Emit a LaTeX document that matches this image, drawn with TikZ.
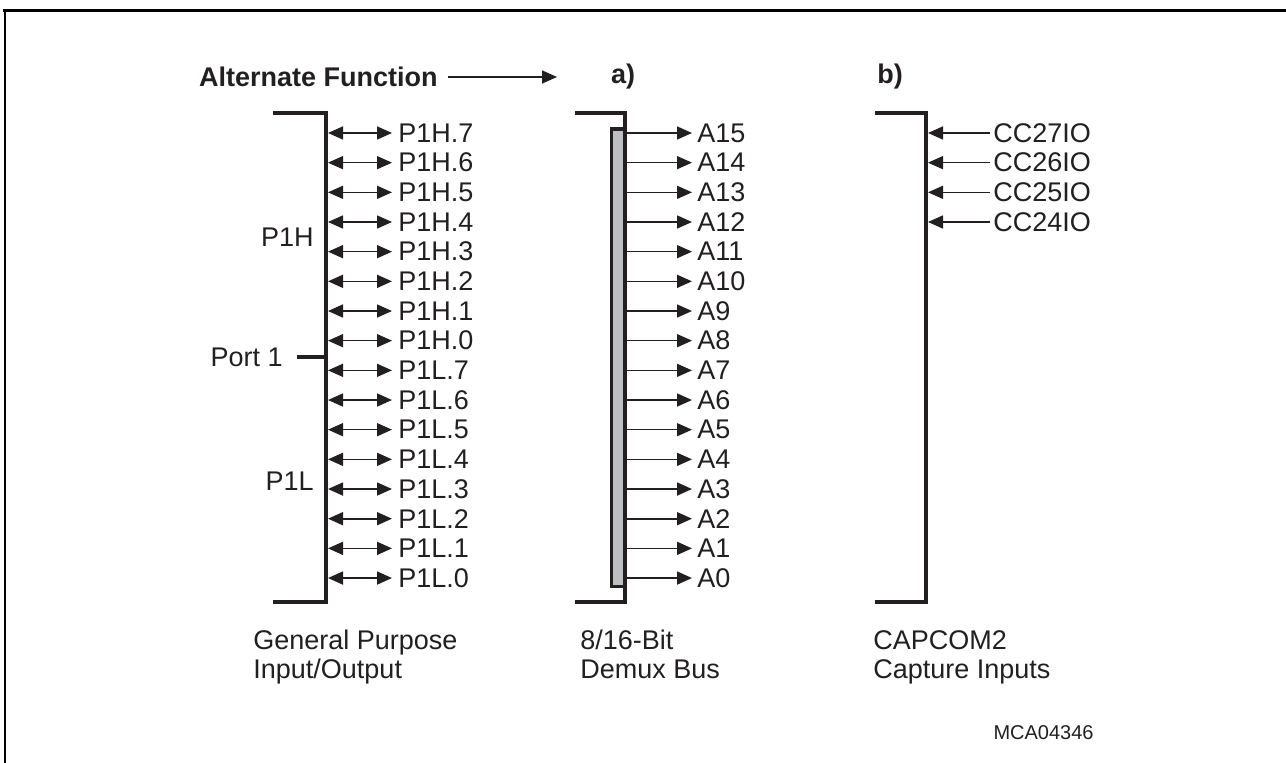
\documentclass[tikz,border=0pt]{standalone}
\usepackage{fontspec}
\setmainfont{Liberation Sans}
\usetikzlibrary{arrows.meta,positioning}
\definecolor{ink}{RGB}{35,31,32}
\definecolor{busgrey}{RGB}{190,191,195}

\begin{document}
\begin{tikzpicture}[x=0.5pt, y=-0.5pt,
  txt/.style={text=ink, font=\fontsize{13.5}{14.5}\selectfont, inner sep=0pt},
  head/.style={txt, font=\fontsize{13.5}{14.5}\selectfont\bfseries},
  pin/.style={txt, anchor=west, inner xsep=3pt},
  caption/.style={txt, anchor=north west, align=left},
  brk/.style={draw=ink, line width=2pt, line join=miter},
  bidir/.style={draw=ink, line width=0.8pt,
                {Triangle[length=7.5pt,width=6.5pt]}-{Triangle[length=7.5pt,width=6.5pt]}},
  arr/.style={draw=ink, line width=0.8pt, -{Triangle[length=7.5pt,width=6.5pt]}}]
  \useasboundingbox (0,0) rectangle (1286,763);
  \draw[line width=1.5pt] (3,11) -- (1286,11);
  \draw[line width=1pt] (5,11) -- (5,763);

  \node[head, anchor=east, inner xsep=5pt] (alt) at (448,77) {Alternate Function};
  \coordinate (altend) at (557,77);
  \draw[arr] (alt.east) -- (altend);
  \node[head] (ta) at (623,77) {a)};
  \node[head] (tb) at (890,77) {b)};

  % general purpose port
  \draw[brk] (273,113) -- (326,113) -- (326,602) -- (273,602);
  \foreach \lab [count=\i from 0] in {P1H.7,P1H.6,P1H.5,P1H.4,P1H.3,P1H.2,P1H.1,P1H.0,
                                     P1L.7,P1L.6,P1L.5,P1L.4,P1L.3,P1L.2,P1L.1,P1L.0} {
    \coordinate (gb\i) at (328,{133+29.67*\i});
    \node[pin] (gp\i) at (392,{133+29.67*\i}) {\lab};
    \draw[bidir] (gb\i) -- (gp\i.west);
  }
  \node[txt, anchor=east] (p1h) at (314,237) {P1H};
  \node[txt, anchor=east] (p1l) at (314,481) {P1L};
  \node[txt, anchor=east, inner xsep=7pt] (port) at (297,357) {Port 1};
  \coordinate (portb) at (326,357);
  \draw[brk] (port.east) -- (portb);

  % demux bus
  \draw[draw=ink, line width=1.75pt, fill=busgrey] (611.5,129) rectangle (625,586.5);
  \draw[brk] (575,113) -- (625,113) -- (625,602) -- (575,602);
  \foreach \i in {0,...,15} {
    \pgfmathtruncatemacro{\n}{15-\i}
    \coordinate (db\i) at (627,{133+29.67*\i});
    \node[pin, inner xsep=2.5pt] (dp\i) at (692,{133+29.67*\i}) {A\n};
    \draw[arr] (db\i) -- (dp\i.west);
  }

  % capcom2 inputs
  \draw[brk] (875,113) -- (926,113) -- (926,602) -- (875,602);
  \foreach \i in {0,...,3} {
    \pgfmathtruncatemacro{\n}{27-\i}
    \coordinate (cb\i) at (928,{133+29.67*\i});
    \node[pin, inner xsep=1.5pt] (cp\i) at (990,{133+29.67*\i}) {CC\n IO};
    \draw[arr] (cp\i.west) -- (cb\i);
  }

  \node[caption] (capg) at (253,630) {General Purpose\\Input/Output};
  \node[caption] (capd) at (580,630) {8/16-Bit\\Demux Bus};
  \node[caption] (capc) at (873,630) {CAPCOM2\\Capture Inputs};
  \node[txt, anchor=east, font=\fontsize{10}{12}\selectfont] (mca) at (1094,733) {MCA04346};
\end{tikzpicture}
\end{document}
